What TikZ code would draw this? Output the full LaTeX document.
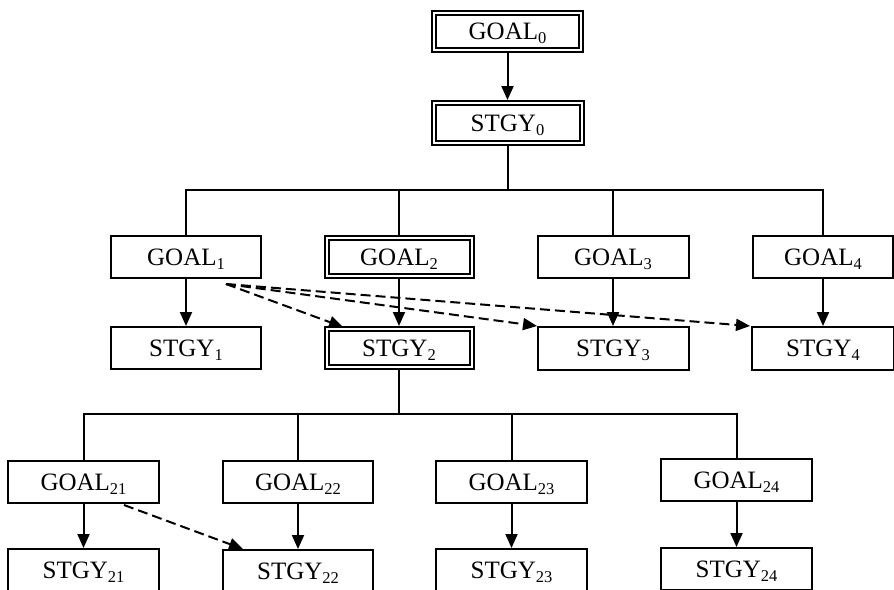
\documentclass[tikz,border=0pt]{standalone}
\usepackage{fontspec}
\setmainfont{Liberation Serif}
\usetikzlibrary{arrows.meta,calc}
\newcommand\mysub[1]{\raisebox{-4pt}{\fontsize{16.5pt}{16.5pt}\selectfont #1}}
\begin{document}
\begin{tikzpicture}[x=1pt,y=-1pt,
  box/.style={draw,line width=2pt,inner sep=0pt,minimum width=150pt,minimum height=42pt,
    text height=16.5pt,text depth=0pt,font=\fontsize{25pt}{25pt}\selectfont},
  dbox/.style={box,double=white,double distance=2pt,line width=2pt,outer sep=3pt},
  conn/.style={line width=2pt},
  arr/.style={conn,-{Triangle[length=14pt,width=12pt]}},
  darr/.style={arr,dash pattern=on 10pt off 5pt}]
\useasboundingbox (0,0) rectangle (894,589);
\fill[white] (0,0) rectangle (894,589);
\clip (0,0) rectangle (894,589);
% top
\node[dbox,minimum width=147pt,minimum height=37pt] (g0) at (507.5,31.5) {GOAL\mysub{0}};
\node[dbox,minimum width=148pt,minimum height=40pt] (s0) at (507.5,123) {STGY\mysub{0}};
% first level
\node[box] (g1) at (186,257) {GOAL\mysub{1}};
\node[dbox,minimum width=145pt,minimum height=38pt] (g2) at (399,257) {GOAL\mysub{2}};
\node[box,minimum width=151pt] (g3) at (613,257) {GOAL\mysub{3}};
\node[box,minimum width=140pt] (g4) at (823,257) {GOAL\mysub{4}};
\node[box] (s1) at (186,348) {STGY\mysub{1}};
\node[dbox,minimum width=145pt,minimum height=38pt] (s2) at (399,348) {STGY\mysub{2}};
\node[box,minimum width=151pt,minimum height=43pt] (s3) at (613,348.5) {STGY\mysub{3}};
\node[box,minimum width=142pt,minimum height=43pt] (s4) at (823,348.5) {STGY\mysub{4}};
% second level
\node[box,minimum width=151pt] (h1) at (83.5,482) {GOAL\mysub{21}};
\node[box] (h2) at (298,482) {GOAL\mysub{22}};
\node[box,minimum width=151pt] (h3) at (511.5,482) {GOAL\mysub{23}};
\node[box,minimum width=151pt] (h4) at (736.5,480) {GOAL\mysub{24}};
\node[box,minimum width=151pt] (t1) at (83.5,570) {STGY\mysub{21}};
\node[box] (t2) at (298,571) {STGY\mysub{22}};
\node[box,minimum width=151pt] (t3) at (511.5,570) {STGY\mysub{23}};
\node[box,minimum width=151pt] (t4) at (736.5,569) {STGY\mysub{24}};
% connectors top
\draw[arr] (g0) -- (s0);
\coordinate (b0) at (507.5,190);
\draw[conn] (s0.south) -- (b0);
\draw[conn] (g1.north) |- (b0) -| (g4.north);
\draw[conn] (g2.north) -- (g2.north |- b0);
\draw[conn] (g3.north) -- (g3.north |- b0);
\draw[arr] (g1) -- (s1);
\draw[arr] (g2) -- (s2);
\draw[arr] (g3) -- (s3);
\draw[arr] (g4) -- (s4);
% dashed from GOAL1
\coordinate (d0) at (226,284);
\coordinate (e2) at (343,327);
\coordinate (e3) at (537,326);
\coordinate (e4) at (750,326);
\draw[darr] (d0) -- (e2);
\draw[darr] (d0) -- (e3);
\draw[darr] (d0) -- (e4);
% second level connectors
\coordinate (b1) at (399,414);
\draw[conn] (s2.south) -- (b1);
\draw[conn] (h1.north) |- (b1) -| (h4.north);
\draw[conn] (h2.north) -- (h2.north |- b1);
\draw[conn] (h3.north) -- (h3.north |- b1);
\draw[arr] (h1) -- (t1);
\draw[arr] (h2) -- (t2);
\draw[arr] (h3) -- (t3);
\draw[arr] (h4) -- (t4);
\coordinate (d1) at (124,505);
\coordinate (e22) at (243,549);
\draw[darr] (d1) -- (e22);
\end{tikzpicture}
\end{document}
